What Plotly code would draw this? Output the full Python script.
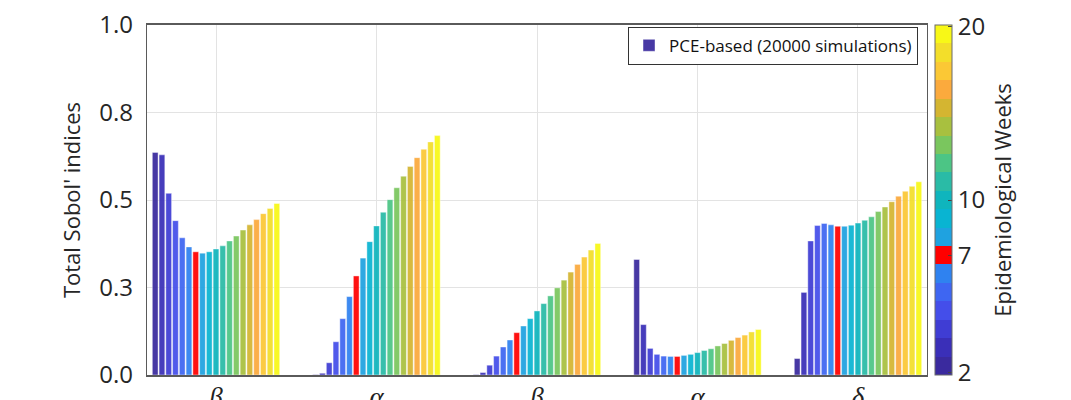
import plotly.graph_objects as go

# ---------------- data ----------------
param_labels = ["<i>β</i>", "<i>α</i>", "<i>β</i>", "<i>α</i>", "<i>δ</i>"]
param_pos = [1, 2, 3, 4, 5]
weeks = [2, 3, 4, 5, 6, 7, 8, 9, 10, 11, 12, 13, 14, 15, 16, 17, 18, 19, 20]

beta_1 = [0.636, 0.629, 0.519, 0.441, 0.392, 0.366, 0.352, 0.348, 0.352, 0.360,
          0.369, 0.383, 0.397, 0.414, 0.429, 0.444, 0.461, 0.476, 0.490]
alpha_1 = [0.001, 0.005, 0.035, 0.095, 0.161, 0.224, 0.283, 0.334, 0.381, 0.426,
           0.465, 0.501, 0.535, 0.568, 0.596, 0.621, 0.645, 0.666, 0.684]
beta_2 = [0.001, 0.007, 0.028, 0.054, 0.080, 0.100, 0.121, 0.140, 0.161, 0.183,
          0.204, 0.226, 0.249, 0.271, 0.294, 0.316, 0.337, 0.357, 0.376]
alpha_2 = [0.330, 0.144, 0.076, 0.059, 0.054, 0.053, 0.053, 0.056, 0.059, 0.064,
           0.070, 0.075, 0.083, 0.090, 0.099, 0.107, 0.114, 0.123, 0.130]
delta_1 = [0.047, 0.236, 0.383, 0.427, 0.433, 0.429, 0.425, 0.425, 0.428, 0.434,
           0.442, 0.452, 0.467, 0.480, 0.495, 0.511, 0.525, 0.539, 0.552]
groups = [beta_1, alpha_1, beta_2, alpha_2, delta_1]

week_colors = ["#3a2a9e", "#3a2fb8", "#3f3dd4", "#444eea", "#3e66f2", "#2f82f0",
               "#ff0000", "#1fa2e0", "#09b4d2", "#0fb5bd", "#2abba6", "#4cc585",
               "#7ac65e", "#a8c03f", "#d4b531", "#fbaa3d", "#fbc835", "#f3de2a",
               "#f8f817"]

y_tickvals = [0, 0.25, 0.5, 0.75, 1.0]
y_ticktext = ["0.0", "0.3", "0.5", "0.8", "1.0"]

cb_tickvals = [0.62, 7, 10, 19.42]
cb_ticktext = ["2", "7", "10", "20"]

legend_name = "PCE-based (20000 simulations)"

# ---------------- figure ----------------
FONT = "Open Sans"
TXT = "#262626"
fig = go.Figure()

for i, wk in enumerate(weeks):
    fig.add_trace(go.Bar(
        x=param_pos,
        y=[g[i] for g in groups],
        name=legend_name if i == 0 else f"Week {wk}",
        showlegend=(i == 0),
        marker=dict(color=week_colors[i],
                    line=dict(color="rgba(255,255,255,0.7)", width=0.6)),
        opacity=0.93,
    ))

n = len(week_colors)
cscale = []
for i, c in enumerate(week_colors):
    cscale.append([i / n, c])
    cscale.append([(i + 1) / n, c])

fig.add_trace(go.Scatter(
    x=[None], y=[None], mode="markers", showlegend=False, hoverinfo="skip",
    marker=dict(
        color=[1], colorscale=cscale, cmin=0.5, cmax=n + 0.5, showscale=True,
        colorbar=dict(
            x=1.0103, xanchor="left", xref="paper", xpad=0, ypad=0,
            y=0.5, yanchor="middle", len=1.0, lenmode="fraction",
            thickness=17, outlinewidth=1, outlinecolor="#6b6b6b",
            tickvals=cb_tickvals, ticktext=cb_ticktext,
            ticks="inside", ticklen=4, tickcolor="#444",
            tickfont=dict(family=FONT, size=24, color=TXT),
            title=dict(text="Epidemiological Weeks", side="right",
                       font=dict(family=FONT, size=22, color=TXT)),
        ),
    ),
))

fig.update_layout(
    width=1071, height=400,
    margin=dict(l=147, r=144, t=25, b=25, autoexpand=False),
    paper_bgcolor="white", plot_bgcolor="white",
    barmode="group", bargap=0.2, bargroupgap=0.15,
    font=dict(family=FONT, color=TXT),
    legend=dict(x=0.9885, xanchor="right", y=0.995, yanchor="top",
                bgcolor="white", bordercolor="#333", borderwidth=1,
                font=dict(family=FONT, size=17, color="#111"),
                itemwidth=30, tracegroupgap=0),
)

fig.update_xaxes(
    range=[0.57, 5.43], tickvals=param_pos, ticktext=param_labels,
    tickfont=dict(family="Liberation Serif", size=27, color="#222"),
    showgrid=True, gridcolor="#e3e3e3", gridwidth=1,
    showline=True, mirror=True, linecolor="#5a5a5a", linewidth=1.5,
    ticks="", zeroline=False, automargin=False, ticklabelstandoff=-3,
)
fig.update_yaxes(
    range=[0, 1], tickvals=y_tickvals, ticktext=y_ticktext,
    tickfont=dict(family=FONT, size=24, color=TXT),
    title=dict(text="Total Sobol' indices", font=dict(family=FONT, size=22, color=TXT),
               standoff=12),
    showgrid=True, gridcolor="#e3e3e3", gridwidth=1,
    showline=True, mirror=True, linecolor="#5a5a5a", linewidth=1.2,
    ticks="", zeroline=False, ticklabelstandoff=8, automargin=False,
)

fig.write_html("out.html")
